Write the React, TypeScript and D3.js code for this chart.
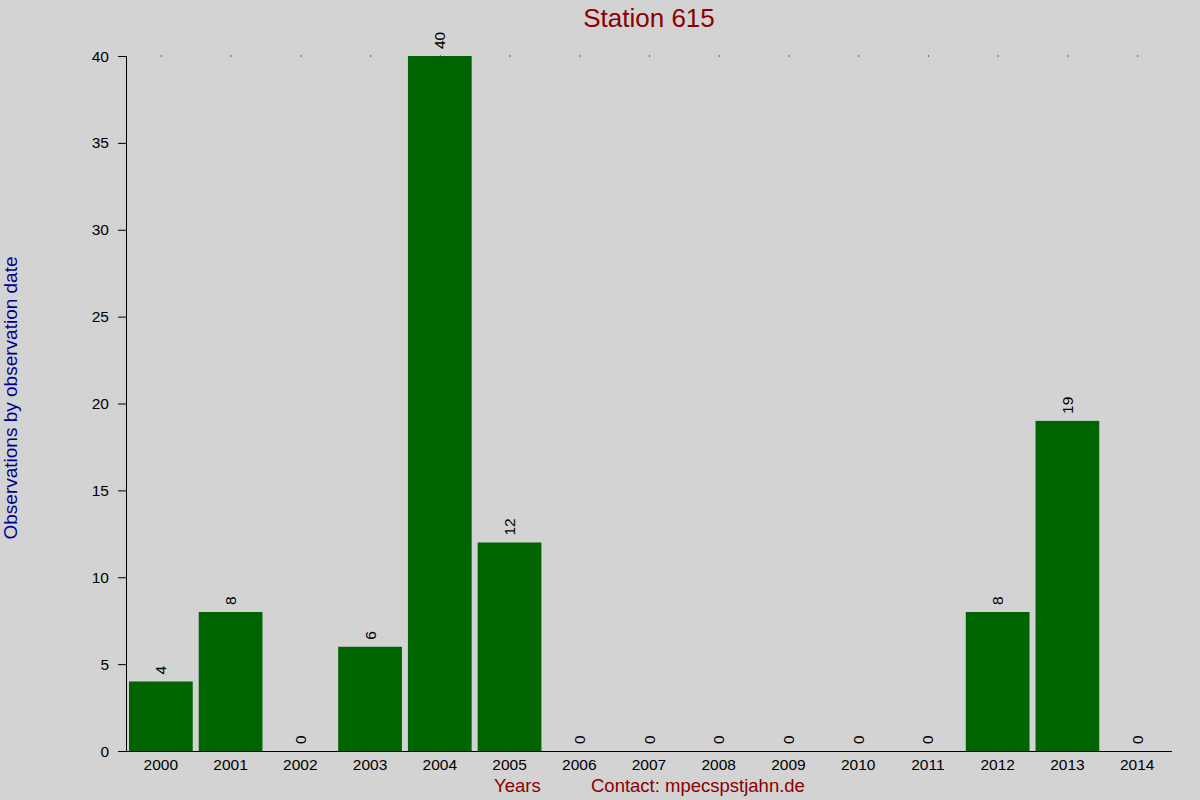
import React from 'react';
import { scaleBand, scaleLinear } from 'd3';

const years = [
  '2000', '2001', '2002', '2003', '2004', '2005', '2006', '2007',
  '2008', '2009', '2010', '2011', '2012', '2013', '2014',
];
const counts = [4, 8, 0, 6, 40, 12, 0, 0, 0, 0, 0, 0, 8, 19, 0];
const yTicks = [0, 5, 10, 15, 20, 25, 30, 35, 40];

const W = 1200;
const H = 800;
const left = 126;
const right = 1172;
const top = 56;
const bottom = 751;
const font = '"Liberation Sans", Arial, sans-serif';

const App: React.FC = () => {
  const x = scaleBand<string>()
    .domain(years)
    .range([left, right])
    .paddingInner(0.086)
    .paddingOuter(0.043);
  const y = scaleLinear().domain([0, 40]).range([bottom, top]);
  const cx = (d: string) => (x(d) as number) + x.bandwidth() / 2;

  return (
    <svg
      width={W}
      height={H}
      style={{ display: 'block', position: 'absolute', left: 0, top: 0 }}
      fontFamily={font}
    >
      <rect width={W} height={H} fill="#d3d3d3" />
      <text x={649} y={27} textAnchor="middle" fontSize={26} fill="#8b0000">
        Station 615
      </text>

      {/* bars */}
      {years.map((d, i) => (
        <rect
          key={d}
          x={x(d)}
          y={y(counts[i])}
          width={x.bandwidth()}
          height={bottom - y(counts[i])}
          fill="#006400"
        />
      ))}

      {/* value labels */}
      {years.map((d, i) => (
        <text
          key={'v' + d}
          transform={`translate(${cx(d) + 5.5}, ${y(counts[i]) - 7}) rotate(-90)`}
          fontSize={15.5}
          fill="#000"
        >
          {counts[i]}
        </text>
      ))}

      {/* top dots */}
      {years.map((d) => (
        <rect key={'t' + d} x={cx(d)} y={top - 0.5} width={1} height={1} fill="#000" />
      ))}

      {/* y axis */}
      <line x1={left + 0.5} x2={left + 0.5} y1={top} y2={bottom + 0.5} stroke="#000" />
      {yTicks.map((t) => (
        <g key={'y' + t}>
          <line x1={118} x2={left} y1={y(t) + 0.5} y2={y(t) + 0.5} stroke="#000" />
          <text x={109} y={y(t) + 5.5} textAnchor="end" fontSize={15.5} fill="#000">
            {t}
          </text>
        </g>
      ))}

      {/* x axis */}
      <line x1={118} x2={right} y1={bottom + 0.5} y2={bottom + 0.5} stroke="#000" />
      {years.map((d) => (
        <text key={'x' + d} x={cx(d)} y={770} textAnchor="middle" fontSize={15.5} fill="#000">
          {d}
        </text>
      ))}

      <text x={494} y={792} fontSize={18.5} fill="#8b0000">
        Years
      </text>
      <text x={591} y={792} fontSize={18.5} fill="#8b0000">
        Contact: mpecspstjahn.de
      </text>
      <text
        transform={`translate(17, 398) rotate(-90)`}
        textAnchor="middle"
        fontSize={19}
        fill="#00008b"
      >
        Observations by observation date
      </text>
    </svg>
  );
};

export default App;
